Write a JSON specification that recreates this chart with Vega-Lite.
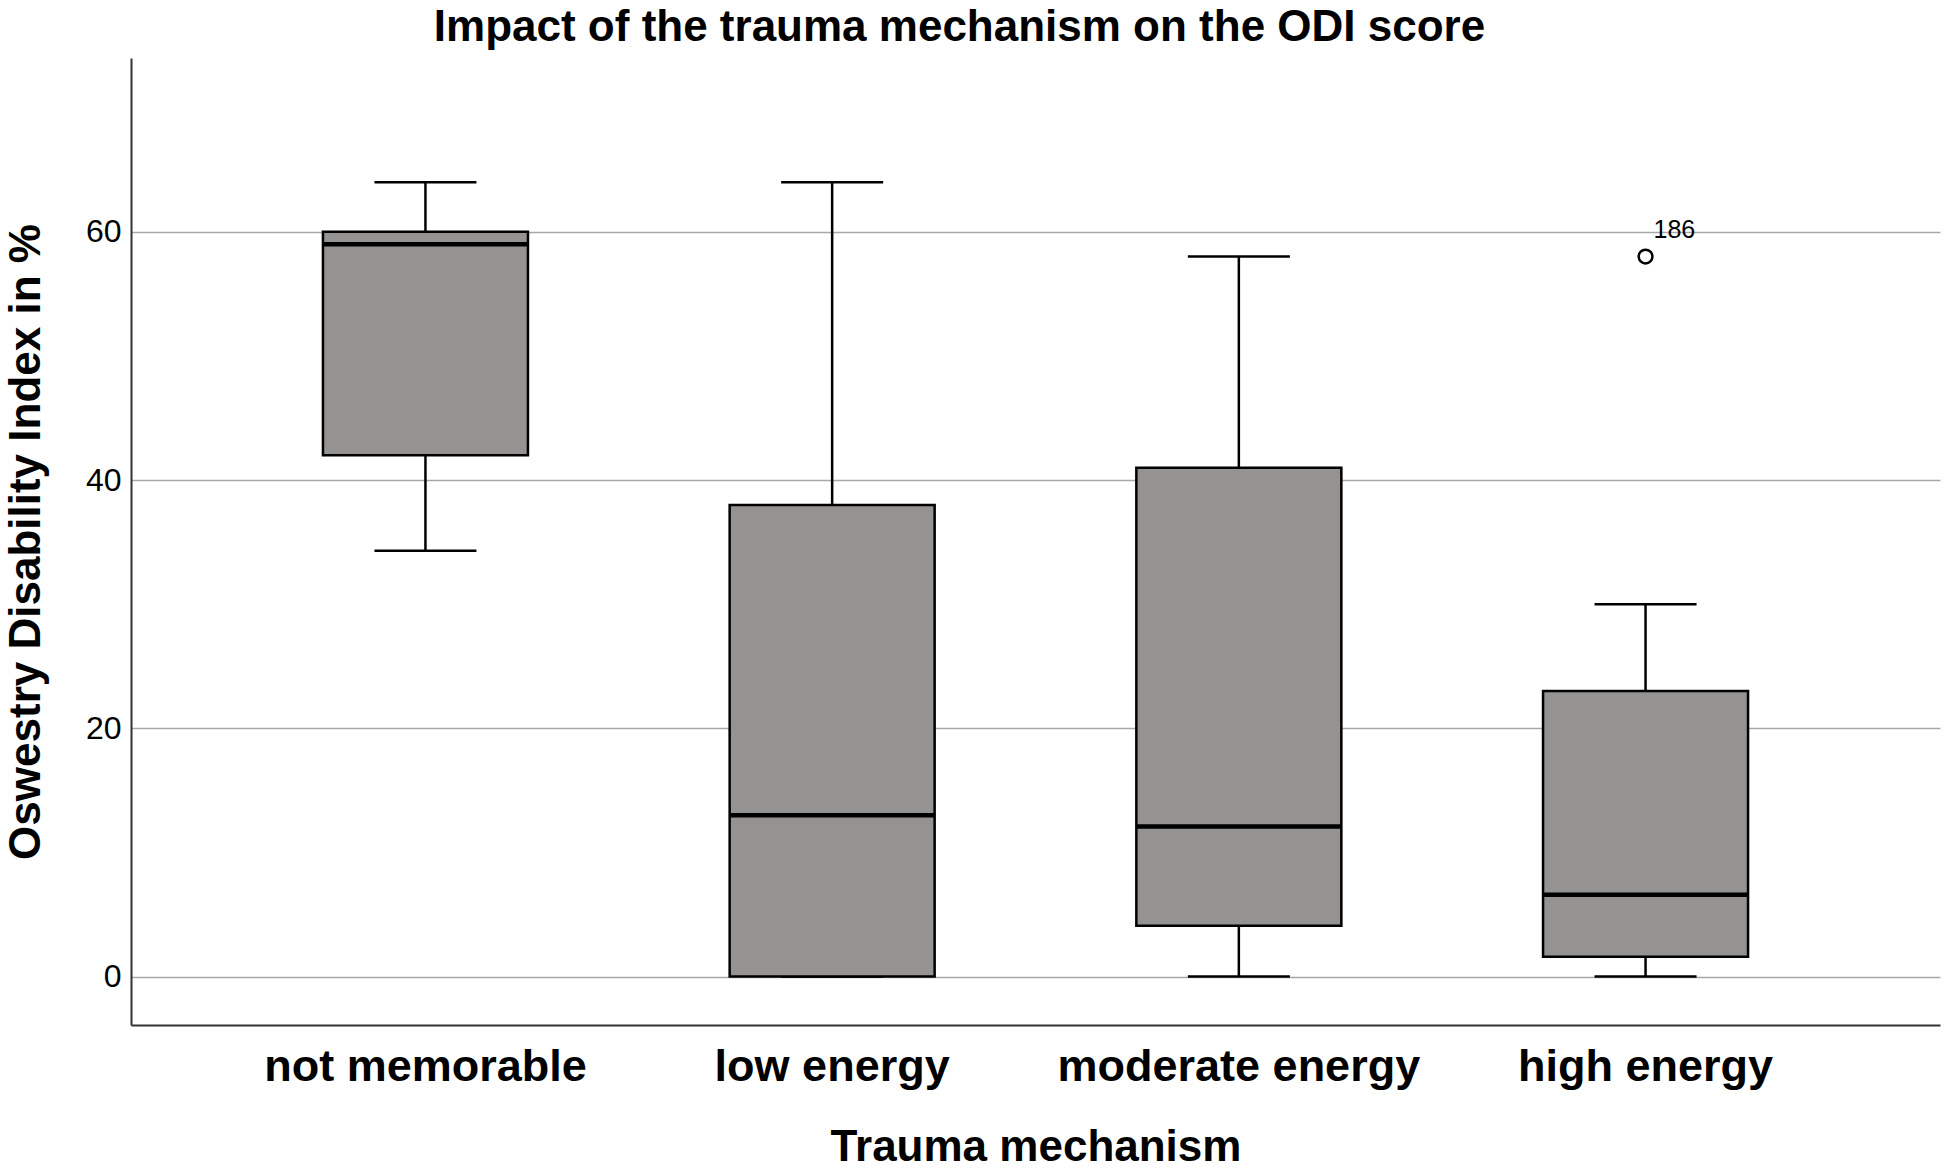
{
  "$schema": "https://vega.github.io/schema/vega-lite/v6.json",
  "width": 1809,
  "height": 967,
  "autosize": {"type": "none"},
  "padding": {"left": 131, "top": 58, "right": 4, "bottom": 143},
  "background": "white",
  "title": {
    "text": "Impact of the trauma mechanism on the ODI score",
    "font": "Liberation Sans",
    "fontSize": 44,
    "fontWeight": "bold",
    "color": "black",
    "anchor": "middle",
    "dx": -76,
    "offset": 8
  },
  "config": {
    "view": {"stroke": null},
    "font": "Liberation Sans"
  },
  "datasets": {
    "stats": [
      {"mechanism": "not memorable", "lower": 34.3, "q1": 42, "median": 59, "q3": 60, "upper": 64},
      {"mechanism": "low energy", "lower": 0, "q1": 0, "median": 13, "q3": 38, "upper": 64},
      {"mechanism": "moderate energy", "lower": 0, "q1": 4.1, "median": 12.1, "q3": 41, "upper": 58},
      {"mechanism": "high energy", "lower": 0, "q1": 1.6, "median": 6.6, "q3": 23, "upper": 30}
    ],
    "outliers": [
      {"mechanism": "high energy", "value": 58, "case": "186"}
    ]
  },
  "encoding": {
    "x": {
      "field": "mechanism",
      "type": "nominal",
      "sort": ["not memorable", "low energy", "moderate energy", "high energy"],
      "scale": {"type": "band", "paddingInner": 0, "paddingOuter": 0.224},
      "axis": {
        "title": "Trauma mechanism",
        "titleFontSize": 44,
        "titleFontWeight": "bold",
        "titleColor": "black",
        "titlePadding": 36,
        "labelFontSize": 45,
        "labelFontWeight": "bold",
        "labelColor": "black",
        "labelAngle": 0,
        "labelLimit": 0,
        "labelPadding": 19,
        "ticks": false,
        "domainColor": "#333333",
        "domainWidth": 2,
        "grid": false
      }
    }
  },
  "layer": [
    {
      "data": {"name": "stats"},
      "mark": {"type": "rule", "color": "black", "strokeWidth": 2.5},
      "encoding": {
        "y": {
          "field": "lower",
          "type": "quantitative",
          "scale": {"domain": [-3.9, 74], "nice": false, "zero": false},
          "axis": {
            "title": "Oswestry Disability Index in %",
            "titleFontSize": 44,
            "titleFontWeight": "bold",
            "titleColor": "black",
            "titlePadding": 37,
            "values": [0, 20, 40, 60],
            "labelFontSize": 32,
            "labelColor": "black",
            "labelPadding": 10,
            "ticks": false,
            "domainColor": "#333333",
            "domainWidth": 2,
            "grid": true,
            "gridColor": "#a8a8a8",
            "gridWidth": 1.5
          }
        },
        "y2": {"field": "upper"}
      }
    },
    {
      "data": {"name": "stats"},
      "mark": {"type": "tick", "color": "black", "opacity": 1, "size": 102, "thickness": 2.5},
      "encoding": {"y": {"field": "upper", "type": "quantitative"}}
    },
    {
      "data": {"name": "stats"},
      "mark": {"type": "tick", "color": "black", "opacity": 1, "size": 102, "thickness": 2.5},
      "encoding": {"y": {"field": "lower", "type": "quantitative"}}
    },
    {
      "data": {"name": "stats"},
      "mark": {"type": "bar", "size": 205, "fill": "#959392", "opacity": 1, "stroke": "black", "strokeWidth": 2.5},
      "encoding": {
        "y": {"field": "q1", "type": "quantitative"},
        "y2": {"field": "q3"}
      }
    },
    {
      "data": {"name": "stats"},
      "mark": {"type": "tick", "color": "black", "opacity": 1, "size": 205, "thickness": 4.5},
      "encoding": {"y": {"field": "median", "type": "quantitative"}}
    },
    {
      "data": {"name": "outliers"},
      "mark": {"type": "point", "shape": "circle", "filled": false, "opacity": 1, "stroke": "black", "strokeWidth": 2.5, "size": 190},
      "encoding": {"y": {"field": "value", "type": "quantitative"}}
    },
    {
      "data": {"name": "outliers"},
      "mark": {"type": "text", "align": "left", "baseline": "middle", "dx": 8, "dy": -27, "fontSize": 25, "color": "black"},
      "encoding": {
        "y": {"field": "value", "type": "quantitative"},
        "text": {"field": "case"}
      }
    }
  ]
}
